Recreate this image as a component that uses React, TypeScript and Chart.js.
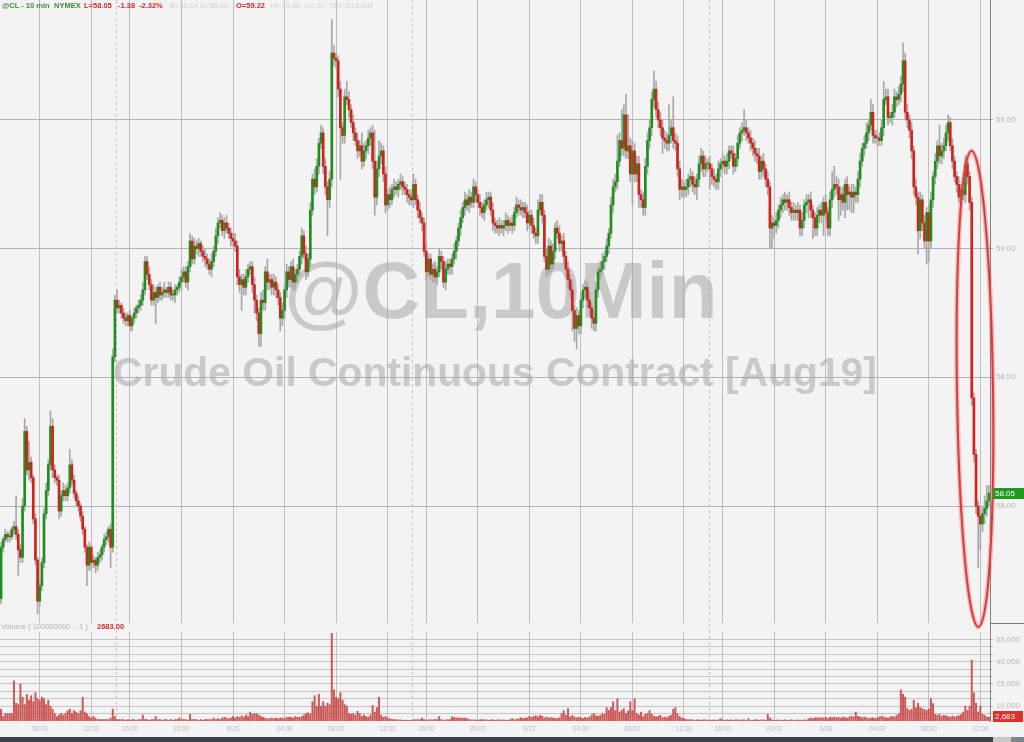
import React, { useEffect, useRef } from 'react';
import { Chart, registerables } from 'chart.js';

Chart.register(...registerables);

// ---------- DATA (10-minute candles, 6/25 05:00 -> 6/28 12:40, PT, daily break 14:00-15:00) ----------
const FIRST_OPEN = 57.64;

const CLOSES = [
  57.84, 57.87, 57.89, 57.88, 57.88, 57.91, 57.92, 57.89, 57.83, 57.80,
  58.00, 58.29, 58.14, 58.17, 58.11, 57.95, 57.79, 57.63, 57.69, 57.78,
  57.97, 58.06, 58.16, 58.31, 58.14, 58.11, 58.10, 57.98, 58.04, 58.06,
  58.04, 58.07, 58.16, 58.10, 58.05, 58.02, 58.00, 57.96, 57.91, 57.84,
  57.77, 57.84, 57.78, 57.79, 57.77, 57.80, 57.81, 57.84, 57.87, 57.88,
  57.91, 57.84, 58.58, 58.80, 58.77, 58.78, 58.75, 58.73, 58.72, 58.74,
  58.70, 58.73, 58.75, 58.77, 58.78, 58.80, 58.84, 58.95, 58.90, 58.86,
  58.80, 58.83, 58.81, 58.85, 58.82, 58.83, 58.84, 58.83, 58.85, 58.82,
  58.82, 58.84, 58.85, 58.87, 58.89, 58.91, 58.87, 58.93, 59.03, 58.96,
  59.01, 59.00, 59.02, 58.99, 58.97, 58.96, 58.94, 58.92, 58.95, 58.99,
  59.05, 59.10, 59.11, 59.07, 59.10, 59.08, 59.06, 59.04, 59.03, 59.01,
  58.89, 58.86, 58.88, 58.85, 58.89, 58.92, 58.93, 58.86, 58.80, 58.75,
  58.67, 58.80, 58.79, 58.91, 58.87, 58.88, 58.85, 58.87, 58.84, 58.81,
  58.73, 58.76, 58.84, 58.91, 58.88, 58.93, 58.87, 58.90, 58.92, 58.97,
  59.05, 58.98, 58.91, 58.96, 59.15, 59.27, 59.24, 59.32, 59.41, 59.45,
  59.32, 59.24, 59.19, 59.27, 59.76, 59.74, 59.73, 59.62, 59.47, 59.44,
  59.59, 59.58, 59.54, 59.49, 59.45, 59.42, 59.38, 59.40, 59.34, 59.38,
  59.40, 59.43, 59.45, 59.34, 59.20, 59.31, 59.36, 59.38, 59.29, 59.17,
  59.21, 59.19, 59.23, 59.24, 59.23, 59.25, 59.26, 59.24, 59.23, 59.21,
  59.20, 59.19, 59.25, 59.19, 59.15, 59.12, 59.10, 58.99, 58.91, 58.96,
  58.90, 58.92, 58.89, 58.91, 58.97, 58.95, 58.87, 58.92, 58.94, 58.93,
  58.96, 58.99, 59.03, 59.08, 59.12, 59.16, 59.19, 59.17, 59.20, 59.18,
  59.24, 59.21, 59.18, 59.16, 59.14, 59.17, 59.19, 59.20, 59.15, 59.10,
  59.09, 59.08, 59.09, 59.08, 59.09, 59.11, 59.09, 59.10, 59.09, 59.14,
  59.17, 59.16, 59.15, 59.16, 59.14, 59.10, 59.13, 59.09, 59.06, 59.05,
  59.15, 59.18, 59.13, 58.97, 58.92, 59.01, 58.94, 58.99, 59.08, 59.06,
  59.02, 59.03, 58.97, 58.92, 58.88, 58.84, 58.76, 58.69, 58.74, 58.70,
  58.80, 58.84, 58.85, 58.80, 58.77, 58.73, 58.71, 58.84, 58.91, 58.92,
  58.95, 58.97, 59.01, 59.06, 59.17, 59.24, 59.26, 59.34, 59.42, 59.39,
  59.52, 59.38, 59.40, 59.29, 59.38, 59.29, 59.33, 59.21, 59.19, 59.16,
  59.32, 59.42, 59.47, 59.58, 59.62, 59.54, 59.50, 59.47, 59.43, 59.42,
  59.41, 59.44, 59.47, 59.42, 59.41, 59.31, 59.23, 59.24, 59.23, 59.24,
  59.27, 59.28, 59.25, 59.24, 59.27, 59.33, 59.36, 59.31, 59.33, 59.33,
  59.31, 59.28, 59.27, 59.26, 59.31, 59.33, 59.34, 59.32, 59.34, 59.38,
  59.37, 59.32, 59.35, 59.41, 59.45, 59.46, 59.47, 59.45, 59.43, 59.41,
  59.39, 59.37, 59.36, 59.30, 59.34, 59.31, 59.27, 59.24, 59.08, 59.10,
  59.09, 59.11, 59.15, 59.17, 59.19, 59.18, 59.19, 59.16, 59.14, 59.15,
  59.14, 59.15, 59.08, 59.11, 59.17, 59.18, 59.19, 59.15, 59.12, 59.08,
  59.13, 59.15, 59.13, 59.18, 59.14, 59.08, 59.19, 59.23, 59.25, 59.24,
  59.19, 59.21, 59.18, 59.25, 59.21, 59.22, 59.20, 59.22, 59.21, 59.27,
  59.34, 59.39, 59.41, 59.45, 59.48, 59.53, 59.44, 59.43, 59.43, 59.42,
  59.47, 59.58, 59.59, 59.51, 59.51, 59.53, 59.59, 59.58, 59.60, 59.64,
  59.73, 59.53, 59.50, 59.46, 59.38, 59.24, 59.20, 59.07, 59.19, 59.10,
  59.03, 59.14, 59.03, 59.19, 59.28, 59.34, 59.40, 59.36, 59.38, 59.40,
  59.45, 59.49, 59.40, 59.34, 59.28, 59.25, 59.20, 59.23, 59.21, 59.33,
  59.28, 59.18, 58.42, 58.20, 58.00, 57.96, 57.93, 57.97, 57.99, 58.02,
  58.05,
];

// upper wick above the body, in cents
const HI_WICK = [
  2,1,2,1,2,1,2,12,2,2, 3,5,2,8,2,1,2,1,2,2, 2,3,2,6,3,2,1,2,2,3, 2,2,6,2,2,1,2,1,2,1,
  1,2,1,2,1,2,2,1,2,2, 1,2,3,2,4,2,1,2,2,1, 2,1,2,1,2,2,3,2,2,3, 2,3,2,1,2,2,3,1,2,2,
  2,2,1,2,3,2,2,2,3,2, 3,2,2,1,2,3,2,2,3,2, 3,2,3,2,2,3,2,2,2,3, 2,3,2,2,3,2,2,2,3,2,
  2,3,4,2,5,2,2,3,2,2, 2,3,2,3,2,2,3,2,2,2, 3,2,3,2,3,2,4,3,2,3, 2,3,2,3,13,3,2,2,3,2,
  3,6,3,2,3,2,3,2,5,3, 2,3,2,3,12,3,6,3,2,3, 2,3,2,3,2,2,3,2,2,2, 2,3,4,2,2,3,2,2,3,2,
  2,2,3,2,3,2,2,3,2,2, 2,3,2,2,3,2,3,2,3,2, 3,2,2,3,2,2,3,2,2,3, 2,2,3,2,2,3,2,2,3,2,
  3,2,3,2,2,3,2,2,3,2, 4,3,3,2,3,3,2,3,2,3, 3,2,3,2,3,2,3,2,3,2, 3,2,3,2,3,2,3,3,2,3,
  3,2,3,2,3,3,3,10,3,12, 4,8,12,3,4,3,3,3,2,3, 3,3,3,3,7,3,3,3,3,3, 3,12,3,12,3,3,3,3,2,3,
  2,3,2,3,2,3,3,2,3,2, 3,2,3,2,3,2,3,2,3,2, 2,3,2,3,2,3,7,3,2,3, 2,3,2,3,2,3,2,3,2,3,
  2,3,2,3,2,3,2,3,2,3, 2,3,2,3,2,3,2,3,2,2, 3,2,3,2,3,2,3,7,7,3, 3,3,3,2,3,2,3,3,2,3,
  3,2,3,4,2,5,3,2,3,2, 3,7,3,3,2,3,3,2,3,3, 7,3,3,2,3,2,3,2,3,2, 3,2,3,3,2,3,2,8,3,3,
  3,3,2,3,2,2,3,2,3,3, 3,2,2,2,2,2,3,3,5,6, 3,
];

// lower wick below the body, in cents
const LO_WICK = [
  2,2,1,2,2,1,2,2,10,2, 2,2,2,4,2,2,2,5,2,2, 2,2,2,2,3,2,2,3,2,2, 2,2,2,2,2,2,2,2,2,2,
  8,2,3,2,3,2,2,2,2,2, 2,8,2,2,2,2,2,2,2,2, 2,2,2,2,2,2,2,2,2,2, 2,2,10,2,2,2,2,2,2,2,
  2,3,2,2,3,2,2,3,2,2, 2,2,3,2,2,3,2,2,3,2, 2,3,2,2,3,2,2,3,2,2, 3,3,10,3,3,2,2,3,5,3,
  5,5,3,3,3,3,3,3,3,3, 5,3,3,3,3,3,3,3,3,3, 3,2,3,2,3,2,3,2,3,2, 3,3,14,3,3,3,3,3,20,3,
  3,2,3,2,3,2,3,2,3,2, 3,3,3,3,7,3,3,3,3,3, 2,3,2,3,2,3,2,3,2,3, 3,2,3,2,3,2,3,2,3,2,
  2,3,2,3,2,3,2,3,2,3, 3,2,3,2,3,2,3,2,3,2, 2,3,2,3,2,3,2,3,2,3, 3,2,3,2,3,2,3,2,3,2,
  2,3,2,3,2,3,2,3,2,3, 3,2,3,2,3,2,3,2,3,2, 3,3,3,3,3,3,8,5,8,3, 3,3,3,3,3,4,3,3,3,3,
  2,3,2,3,2,3,2,3,2,3, 3,3,3,3,12,3,3,5,3,3, 3,3,3,3,3,3,3,3,6,3, 3,3,3,3,3,3,4,3,3,3,
  3,3,3,3,5,3,3,3,3,3, 8,3,3,3,3,3,3,3,3,3, 2,3,2,3,2,3,2,3,2,3, 3,3,3,3,3,3,3,3,8,8,
  5,3,3,3,3,3,3,3,3,3, 3,3,3,3,3,3,6,3,8,3, 3,3,3,8,3,3,3,3,3,3, 8,6,3,6,6,6,6,6,3,3,
  3,2,3,2,3,2,3,2,3,2, 2,3,2,3,2,3,2,3,2,3, 3,3,3,3,3,3,3,9,3,3, 3,9,8,3,3,3,3,3,3,3,
  2,3,2,3,2,3,2,3,2,3, 3,3,3,3,3,20,10,3,4,3, 2,
];

// volume per candle, in thousands of contracts
const VOLUME_K = [
  8, 3, 5, 5, 5, 5, 27, 12, 11, 25,
  16, 11, 18, 14, 17, 13, 19, 15, 14, 16,
  15, 11, 14, 10, 8, 5, 3, 4, 5, 4,
  5, 7, 8, 5, 7, 6, 5, 7, 16, 6,
  5, 3, 2, 3, 2, 1, 1, 1, 1, 1,
  1, 2, 8, 3, 1, 1, 1, 1, 0.5, 1,
  0.5, 1, 1, 0.5, 1, 1, 4, 1, 1, 0.5,
  1, 1, 3, 1, 1, 0.5, 1, 1, 0.5, 1,
  0.5, 1, 1, 2, 1, 1, 1, 0.5, 4.5, 1,
  1, 1, 0.5, 1, 0.5, 1, 1, 1, 1, 2,
  1, 1.5, 1, 2, 2.5, 2, 1.5, 2, 3, 2,
  3, 2.5, 3.5, 2.5, 4, 3, 6, 4.5, 5, 5,
  4, 3, 2.5, 2, 1.5, 1.5, 2, 1.5, 2, 1.5,
  2, 2, 1.5, 2.5, 2.5, 2.5, 2, 3, 2.5, 2.5,
  3, 4, 5, 5.5, 4.5, 13, 17, 10, 18, 10,
  13, 10, 12, 11, 59, 21, 16, 15, 19, 14,
  11, 10, 5, 4.5, 5, 4, 6.5, 5, 3, 4,
  3, 2.5, 4, 10.5, 6, 9, 16, 4, 2.5, 3,
  2, 1.5, 1, 1, 0.8, 0.8, 0.8, 0.5, 0.5, 0.5,
  0.5, 0.5, 1, 0.8, 1, 1, 2, 1, 0.5, 0.8,
  1, 0.8, 1, 1, 3, 1, 0.5, 0.8, 0.8, 1,
  2.7, 2.5, 2, 2.2, 2, 1.8, 2, 1.5, 1, 0.8,
  0.8, 0.8, 0.5, 0.8, 1, 0.8, 0.8, 0.5, 0.8, 0.8,
  0.5, 0.8, 0.8, 0.5, 0.8, 0.5, 0.5, 0.8, 1.6, 0.8,
  1.2, 1.5, 2.2, 1.6, 2, 2.2, 3, 2.5, 3.2, 3.5,
  2.7, 3.8, 3.2, 2.2, 2.7, 2, 2.3, 2, 1.8, 1.6,
  2.2, 5, 7, 3.8, 8.3, 2.7, 3.8, 2.7, 2.2, 2.5,
  2.2, 1.6, 2.5, 2, 2.7, 4, 5, 3.5, 3.2, 3.8,
  5, 4.5, 9, 7.2, 9, 13, 7, 15, 6, 7.2,
  8.3, 5, 6.8, 13, 7, 15, 5, 4, 6, 3,
  4.5, 5, 7, 4.5, 3.2, 2.7, 3.2, 3.8, 2.2, 2.7,
  2.2, 3.2, 3.8, 8, 9, 5, 3, 2, 1.6, 1,
  0.8, 1, 0.8, 0.5, 0.8, 0.8, 0.5, 0.8, 0.8, 0.5,
  0.8, 0.5, 0.8, 0.5, 0.8, 1.6, 0.8, 0.5, 0.8, 0.5,
  0.8, 0.5, 0.8, 0.8, 0.5, 0.8, 0.8, 0.5, 1.6, 0.5,
  0.5, 0.8, 0.8, 0.5, 0.8, 0.8, 0.5, 4.5, 2, 0.8,
  0.5, 0.5, 0.8, 0.5, 0.5, 0.8, 0.5, 0.5, 0.8, 0.5,
  0.5, 0.8, 0.5, 0.5, 0.8, 0.5, 1.6, 2, 1.6, 2.2,
  2, 2.2, 2.2, 2, 2.5, 1.6, 2.7, 2.2, 2.7, 2.2,
  2.5, 2, 2.7, 2.2, 2, 2.7, 3.2, 2.7, 6, 3.2,
  2.7, 2.2, 2.7, 2.2, 1.6, 2, 2.2, 1.6, 2.2, 2.7,
  3.2, 2.7, 2.2, 2, 2.7, 3.2, 2.7, 3.8, 5, 21,
  18, 16, 8.3, 7.2, 8, 14, 9, 12, 9, 8.3,
  7.7, 7.2, 8, 15, 11.7, 4.5, 3.8, 4.5, 3.2, 3.8,
  3.5, 3, 2.7, 3.4, 2.7, 3.2, 3.6, 4.3, 6, 10,
  7.2, 10, 41, 19, 12, 6, 10, 4.5, 3.8, 2.7,
  2.683,
];

const TICK_INDEX = [18, 42, 60, 84, 108, 132, 156, 180, 198, 222, 246, 270, 294, 318, 336, 360, 384, 408, 432, 456];
const TICK_TEXT = ['08:00', '12:00', '16:00', '20:00', '6/26', '04:00', '08:00', '12:00', '16:00', '20:00', '6/27', '04:00', '08:00', '12:00', '16:00', '20:00', '6/28', '04:00', '08:00', '12:00'];
const SESSION_STARTS = [54, 192, 330]; // first candle of each new session
const PRICE_TICKS = [58.0, 58.5, 59.0, 59.5];
const VOL_GRID = [5000, 10000, 15000, 20000, 25000, 30000, 35000, 40000, 45000, 50000, 55000];
const VOL_LABELS = [10000, 25000, 40000, 55000];

const HEADER = [
  { t: '@CL - 10 min', x: 2, c: '#3d8b3d', w: 700 },
  { t: 'NYMEX', x: 54, c: '#3d8b3d', w: 700 },
  { t: 'L=58.05', x: 84, c: '#d42a2a', w: 700 },
  { t: '-1.38', x: 118, c: '#d42a2a', w: 700 },
  { t: '-2.32%', x: 139, c: '#d42a2a', w: 700 },
  { t: 'B=58.04', x: 170, c: '#d2d2d2', w: 400 },
  { t: 'A=58.05', x: 200, c: '#d2d2d2', w: 400 },
  { t: 'O=59.22', x: 236, c: '#d42a2a', w: 700 },
  { t: 'Hi=59.80', x: 270, c: '#d2d2d2', w: 400 },
  { t: 'Lo=57.75', x: 305, c: '#d2d2d2', w: 400 },
  { t: 'V=515,340', x: 337, c: '#d2d2d2', w: 400 },
];

// annotation ellipse around the sell-off (candle index / price units)
const ELLIPSE_INDEX = 453.5;
const ELLIPSE_TOP_PRICE = 59.38;
const ELLIPSE_BOTTOM_PRICE = 57.53;

const BG = '#f3f3f3';
const GREEN = '#1f8e1f';
const RED = '#d2221a';
const WICK = '#a8a8a8';
const FONT = '"Liberation Sans", Arial, sans-serif';

const overlayPlugin = {
  id: 'overlay',
  beforeDatasetsDraw(chart: any) {
    const { ctx, chartArea, scales } = chart;
    const xs = scales.x;
    const yp = scales.y;
    ctx.save();
    ctx.fillStyle = BG;
    ctx.fillRect(chartArea.left, yp.bottom - 9, chartArea.right - chartArea.left, 9);
    ctx.strokeStyle = '#c4c4c4';
    ctx.lineWidth = 1;
    ctx.setLineDash([3, 3]);
    SESSION_STARTS.forEach((i) => {
      const x = Math.round((xs.getPixelForValue(i - 1) + xs.getPixelForValue(i)) / 2) + 0.5;
      ctx.beginPath();
      ctx.moveTo(x, chartArea.top);
      ctx.lineTo(x, chartArea.bottom);
      ctx.stroke();
    });
    ctx.setLineDash([]);
    ctx.fillStyle = 'rgba(165,165,165,0.55)';
    ctx.textAlign = 'center';
    ctx.textBaseline = 'alphabetic';
    const fit = (text: string, width: number) => {
      ctx.font = `bold 100px ${FONT}`;
      const m = ctx.measureText(text).width;
      return (100 * width) / m;
    };
    const s1 = fit('@CL,10Min', 433);
    ctx.font = `bold ${s1}px ${FONT}`;
    ctx.fillText('@CL,10Min', 501, 318);
    const s2 = fit('Crude Oil Continuous Contract [Aug19]', 764);
    ctx.font = `bold ${s2}px ${FONT}`;
    ctx.fillText('Crude Oil Continuous Contract [Aug19]', 495, 386);
    ctx.textAlign = 'left';
    ctx.textBaseline = 'middle';
    ctx.font = `7.5px ${FONT}`;
    ctx.fillStyle = '#b4b4b4';
    ctx.fillText('Volume ( 100000000 , -1 )', 1, yp.bottom - 5);
    ctx.font = `bold 7.5px ${FONT}`;
    ctx.fillStyle = '#d42a2a';
    ctx.fillText('2683.00', 97, yp.bottom - 5);
    ctx.restore();
  },
  afterDraw(chart: any) {
    const { ctx, chartArea, scales } = chart;
    const xs = scales.x;
    const yp = scales.y;
    const yv = scales.yv;
    ctx.save();
    const cx = xs.getPixelForValue(ELLIPSE_INDEX);
    const top = yp.getPixelForValue(ELLIPSE_TOP_PRICE);
    const bottom = yp.getPixelForValue(ELLIPSE_BOTTOM_PRICE);
    const cy = (top + bottom) / 2;
    const ry = (bottom - top) / 2;
    ctx.beginPath();
    ctx.ellipse(cx, cy, 18, ry, -0.0145, 0, Math.PI * 2);
    ctx.strokeStyle = 'rgba(225,90,90,0.35)';
    ctx.lineWidth = 5;
    ctx.stroke();
    ctx.strokeStyle = '#d83c3c';
    ctx.lineWidth = 2;
    ctx.stroke();
    ctx.strokeStyle = '#7a7a7a';
    ctx.lineWidth = 1;
    ctx.beginPath();
    ctx.moveTo(chartArea.right, yp.bottom - 8.5);
    ctx.lineTo(1024, yp.bottom - 8.5);
    ctx.stroke();
    const lastClose = CLOSES[CLOSES.length - 1];
    const py = yp.getPixelForValue(lastClose);
    ctx.fillStyle = '#1f9a1f';
    ctx.fillRect(chartArea.right + 3, Math.round(py) - 5, 31, 11);
    ctx.fillStyle = '#ffffff';
    ctx.font = `8px ${FONT}`;
    ctx.textAlign = 'left';
    ctx.textBaseline = 'middle';
    ctx.fillText(lastClose.toFixed(2), chartArea.right + 5, Math.round(py) + 0.5);
    const lastVol = VOLUME_K[VOLUME_K.length - 1] * 1000;
    const vy = yv.getPixelForValue(lastVol);
    ctx.fillStyle = '#e2302b';
    ctx.fillRect(chartArea.right + 3, Math.round(vy) - 6, 30, 11);
    ctx.fillStyle = '#ffffff';
    ctx.fillText(Math.round(lastVol).toLocaleString('en-US'), chartArea.right + 5, Math.round(vy) - 0.5);
    ctx.fillStyle = '#3d434a';
    ctx.fillRect(0, 737, 993, 5);
    ctx.fillStyle = '#c9c9c9';
    ctx.fillRect(993, 737, 18, 5);
    ctx.fillStyle = '#80858b';
    ctx.fillRect(1011, 737, 13, 5);
    ctx.restore();
  },
};

export default function App() {
  const ref = useRef<HTMLCanvasElement>(null);

  useEffect(() => {
    if (!ref.current) return;
    const labels = CLOSES.map((_, i) => String(i));
    const opens = CLOSES.map((c, i) => (i === 0 ? FIRST_OPEN : CLOSES[i - 1]));
    const bodies = CLOSES.map((c, i) => [opens[i], c]);
    const wicks = CLOSES.map((c, i) => [
      Math.min(opens[i], c) - (LO_WICK[i] ?? 2) / 100,
      Math.max(opens[i], c) + (HI_WICK[i] ?? 2) / 100,
    ]);
    const colors = CLOSES.map((c, i) => (c >= opens[i] ? GREEN : RED));
    const volumes = VOLUME_K.map((v) => v * 1000);
    const tickMap = new Map<number, string>(TICK_INDEX.map((idx, k) => [idx, TICK_TEXT[k]] as [number, string]));

    Chart.defaults.font.family = FONT;

    const chart = new Chart(ref.current, {
      type: 'bar',
      data: {
        labels,
        datasets: [
          {
            label: 'wick',
            data: wicks,
            backgroundColor: WICK,
            barThickness: 1,
            grouped: false,
            order: 3,
            yAxisID: 'y',
          },
          {
            label: 'candle',
            data: bodies,
            backgroundColor: colors,
            barThickness: 2,
            minBarLength: 1,
            grouped: false,
            order: 1,
            yAxisID: 'y',
          },
          {
            label: 'volume',
            data: volumes,
            backgroundColor: 'rgba(198,70,70,0.9)',
            barThickness: 1.3,
            grouped: false,
            order: 2,
            yAxisID: 'yv',
          },
        ],
      },
      options: {
        responsive: false,
        animation: false,
        events: [],
        layout: { padding: 0 },
        plugins: { legend: { display: false }, tooltip: { enabled: false } },
        scales: {
          x: {
            type: 'category',
            offset: true,
            border: { display: false },
            grid: {
              offset: false,
              drawTicks: false,
              color: (ctx: any) => (tickMap.has(ctx.index) ? '#bdbdbd' : 'rgba(0,0,0,0)'),
              lineWidth: 1,
            },
            ticks: {
              autoSkip: false,
              maxRotation: 0,
              minRotation: 0,
              padding: 4,
              color: '#bdbdbd',
              font: { size: 6.5, family: FONT },
              callback: (_v: any, index: number) => tickMap.get(index) ?? '',
            },
            afterFit: (scale: any) => {
              scale.height = 21;
              scale.paddingLeft = 0;
              scale.paddingRight = 0;
            },
          },
          y: {
            type: 'linear',
            position: 'right',
            stack: 'panels',
            stackWeight: 632,
            min: 57.5104,
            max: 59.9663,
            border: { display: true, color: '#808080' },
            grid: { color: '#b3b3b3', drawTicks: true, tickLength: 3 },
            afterBuildTicks: (scale: any) => {
              scale.ticks = PRICE_TICKS.map((v) => ({ value: v }));
            },
            ticks: {
              autoSkip: false,
              padding: 3,
              color: '#b6b6be',
              font: { size: 7.8, family: FONT },
              callback: (v: any) => Number(v).toFixed(2),
            },
            afterFit: (scale: any) => {
              scale.width = 34;
              scale.paddingTop = 0;
              scale.paddingBottom = 0;
            },
          },
          yv: {
            type: 'linear',
            position: 'right',
            stack: 'panels',
            stackWeight: 89,
            min: 0,
            max: 60000,
            border: { display: true, color: '#808080' },
            grid: { color: '#c6c6c6', drawTicks: true, tickLength: 3 },
            afterBuildTicks: (scale: any) => {
              scale.ticks = VOL_GRID.map((v) => ({ value: v }));
            },
            ticks: {
              autoSkip: false,
              padding: 3,
              color: '#b6b6be',
              font: { size: 7.8, family: FONT },
              callback: (v: any) => (VOL_LABELS.includes(Number(v)) ? Number(v).toLocaleString('en-US') : ''),
            },
            afterFit: (scale: any) => {
              scale.width = 34;
              scale.paddingTop = 0;
              scale.paddingBottom = 0;
            },
          },
        },
      },
      plugins: [overlayPlugin],
    } as any);

    return () => chart.destroy();
  }, []);

  return (
    <div style={{ position: 'fixed', left: 0, top: 0, width: 1024, height: 742, background: BG, overflow: 'hidden' }}>
      <canvas ref={ref} width={1024} height={742} style={{ position: 'absolute', left: 0, top: 0, width: 1024, height: 742 }} />
      {HEADER.map((h, k) => (
        <span
          key={k}
          style={{
            position: 'absolute',
            top: 0,
            left: h.x,
            fontFamily: FONT,
            fontSize: '7.5px',
            lineHeight: '11px',
            fontWeight: h.w,
            color: h.c,
            whiteSpace: 'nowrap',
          }}
        >
          {h.t}
        </span>
      ))}
    </div>
  );
}
